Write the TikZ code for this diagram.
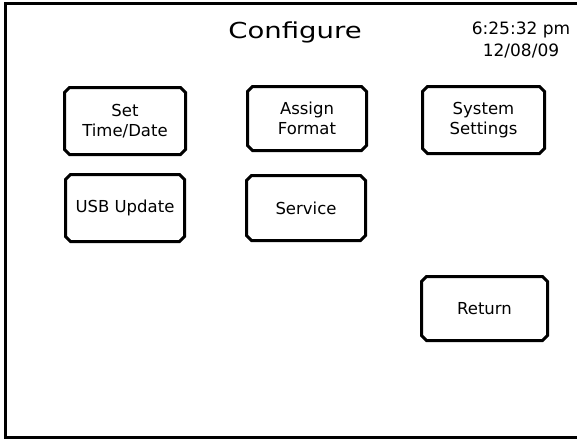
\documentclass[tikz,border=0pt]{standalone}
\usepackage{fontspec}
\setmainfont{DejaVu Sans}
\usepackage{graphicx}
\usepackage{tikz}
\usetikzlibrary{shapes,positioning}

\begin{document}
\begin{tikzpicture}[x=1pt,y=-1pt,
    btn/.style={chamfered rectangle, chamfered rectangle xsep=2.5pt,
        chamfered rectangle ysep=2.5pt, draw, line width=3pt, inner sep=1pt,
        align=center, font=\fontsize{16.5}{20}\selectfont}]
    \useasboundingbox (0,0) rectangle (577,439);

    % Screen frame (right side cut off)
    \draw [line width=3.5pt] (577,3.5) -- (5.5,3.5) -- (5.5,437.5) -- (577,437.5);

    % Header
    \node (title) [anchor=base, font=\fontsize{22}{26}\selectfont] at (295,38) {\scalebox{1.25}[1]{Configure}};
    \node (clock) [anchor=base, font=\fontsize{17}{20}\selectfont] at (521,34) {6:25:32 pm};
    \node (date) [anchor=base, font=\fontsize{17}{20}\selectfont] at (521,56) {12/08/09};

    % Buttons
    \node (settime) [btn, minimum width=121pt, minimum height=67pt] at (125,121) {Set\\Time/Date};
    \node (assign) [btn, minimum width=119pt, minimum height=64pt] at (307,118.5) {Assign\\Format};
    \node (system) [btn, minimum width=122pt, minimum height=67pt] at (483.5,120) {System\\Settings};
    \node (usb) [btn, minimum width=119pt, minimum height=67pt] at (125,208) {USB Update};
    \node (service) [btn, minimum width=119pt, minimum height=65pt] at (306,208) {Service};
    \node (return) [btn, minimum width=126pt, minimum height=64pt] at (484.5,308.5) {Return};
\end{tikzpicture}
\end{document}
